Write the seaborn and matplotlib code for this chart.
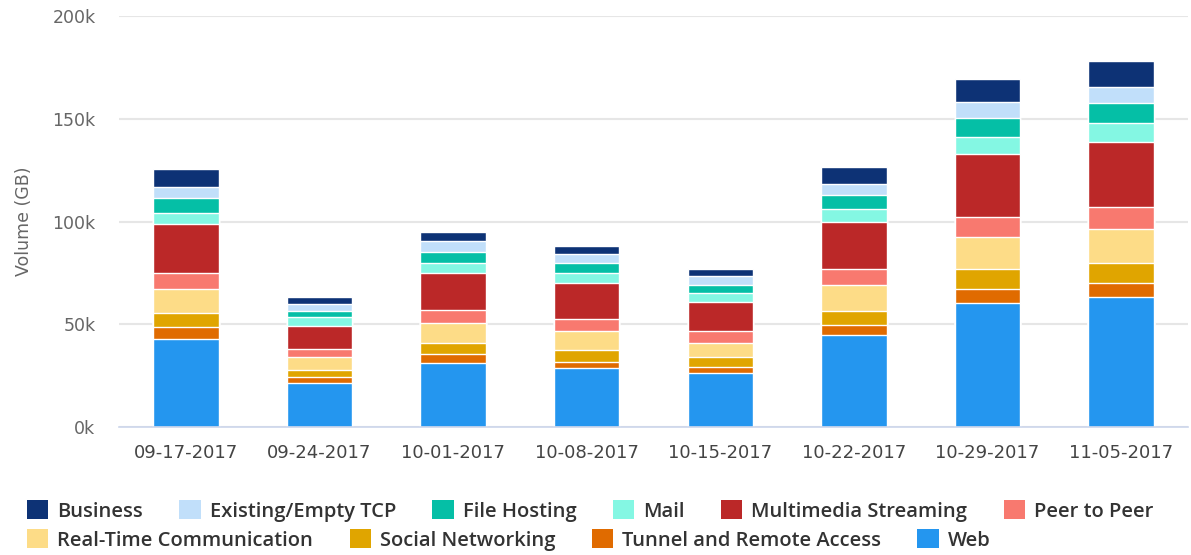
import matplotlib.pyplot as plt
import numpy as np
import seaborn as sns
from matplotlib.patches import Patch
from matplotlib.ticker import FuncFormatter

# weekly traffic volume per application category (GB)
dates = ["09-17-2017", "09-24-2017", "10-01-2017", "10-08-2017",
         "10-15-2017", "10-22-2017", "10-29-2017", "11-05-2017"]

web = [42700, 21300, 31000, 28600, 26100, 44800, 60200, 63100]
tunnel = [5800, 2900, 4500, 3200, 3200, 4800, 6800, 6800]
social = [7100, 3500, 5200, 5700, 4900, 6800, 9700, 9800]
realtime = [11400, 6200, 9800, 9400, 6800, 12700, 15900, 16700]
p2p = [7800, 4200, 6400, 5700, 5900, 7800, 9400, 10500]
multimedia = [24000, 11200, 17900, 17300, 14100, 22700, 30800, 31900]
mail = [5200, 4100, 5200, 4900, 4100, 6300, 8200, 9000]
file_hosting = [7600, 3200, 5300, 4900, 3900, 6800, 9200, 9700]
tcp = [5300, 3300, 5400, 4500, 4500, 5500, 7800, 8100]
business = [8600, 3200, 4300, 4000, 3200, 8500, 11300, 12600]

# stacking order, bottom to top
series = [
    ("Web", web, "#2496ef"),
    ("Tunnel and Remote Access", tunnel, "#e06b00"),
    ("Social Networking", social, "#e0a500"),
    ("Real-Time Communication", realtime, "#fddc87"),
    ("Peer to Peer", p2p, "#f8796f"),
    ("Multimedia Streaming", multimedia, "#bb2828"),
    ("Mail", mail, "#84f7e3"),
    ("File Hosting", file_hosting, "#05bfa6"),
    ("Existing/Empty TCP", tcp, "#c1dffa"),
    ("Business", business, "#0d3275"),
]

sns.set_style("white")
plt.rcParams["font.family"] = ["DejaVu Sans"]

fig, ax = plt.subplots(figsize=(11.91, 5.55), dpi=100)
fig.subplots_adjust(left=0.100, right=0.9975, top=0.971, bottom=0.2306)

cum = np.cumsum([s[1] for s in series], axis=0)
# draw tallest stack first so lower segments sit on top
for (name, vals, color), top in reversed(list(zip(series, cum))):
    sns.barplot(x=dates, y=top, color=color, saturation=1, width=0.49,
                edgecolor="white", linewidth=1, errorbar=None, ax=ax)

ax.set_xlim(-0.5, 7.5)
ax.set_ylim(0, 200000)
ax.set_yticks(np.arange(0, 200001, 50000))
ax.yaxis.set_major_formatter(FuncFormatter(lambda v, p: f"{v / 1000:.0f}k"))
ax.set_axisbelow(True)
ax.yaxis.grid(True, color="#e6e6e6", linewidth=1.5)

for side in ["top", "right", "left"]:
    ax.spines[side].set_visible(False)
ax.spines["bottom"].set_color("#ccd6eb")
ax.spines["bottom"].set_linewidth(1.2)

ax.set_xticks(np.arange(-0.5, 8, 1), minor=True)
ax.tick_params(axis="x", which="minor", length=10, color="#ccd6eb", width=1.2)
ax.tick_params(axis="x", which="major", length=0, pad=12, labelsize=13,
               labelcolor="#444444")
ax.tick_params(axis="y", length=0, pad=17, labelsize=12.5, labelcolor="#666666")
ax.set_ylabel("Volume (GB)", fontsize=12.5, color="#666666", labelpad=14)
ax.set_xlabel("")

lookup = {name: color for name, _, color in series}
row1 = ["Business", "Existing/Empty TCP", "File Hosting", "Mail",
        "Multimedia Streaming", "Peer to Peer"]
row2 = ["Real-Time Communication", "Social Networking",
        "Tunnel and Remote Access", "Web"]
for names, ypos in [(row1, 0.0793), (row2, 0.027)]:
    handles = [Patch(facecolor=lookup[n], edgecolor="none") for n in names]
    fig.legend(handles, names, loc="center left", bbox_to_anchor=(0.0227, ypos),
               ncol=len(names), frameon=False,
               prop={"family": ["Open Sans", "DejaVu Sans"],
                     "weight": "semibold", "size": 14.5},
               handlelength=1.06, handleheight=1.06, handletextpad=0.45,
               columnspacing=1.8, borderpad=0, borderaxespad=0,
               labelcolor="#333333")

fig.savefig("out.png", dpi=100)
